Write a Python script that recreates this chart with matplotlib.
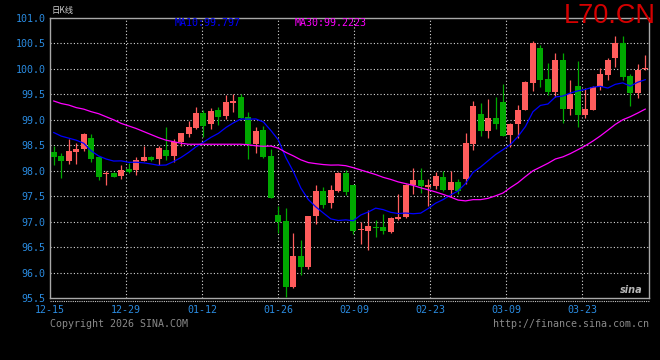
import numpy as np
import matplotlib
matplotlib.use("Agg")
import matplotlib.pyplot as plt
from matplotlib.lines import Line2D

# ---- data ----
opens = [98.36, 98.29, 98.20, 98.37, 98.43, 98.64, 98.27, 97.93, 97.96, 97.90,
         98.03, 98.01, 98.19, 98.27, 98.23, 98.41, 98.29, 98.56, 98.72, 98.84,
         99.13, 98.92, 99.19, 99.08, 99.33, 99.45, 99.06, 98.53, 98.80, 98.29,
         97.13, 97.01, 95.72, 96.32, 96.11, 97.11, 97.60, 97.37, 97.60, 97.96,
         97.72, 96.83, 96.82, 96.89, 96.89, 96.80, 97.05, 97.09, 97.72, 97.82,
         97.68, 97.70, 97.88, 97.62, 97.78, 97.84, 98.53, 99.11, 98.78, 99.04,
         99.35, 98.70, 98.92, 99.19, 99.72, 100.41, 99.80, 99.55, 100.17, 99.21,
         99.66, 99.10, 99.19, 99.64, 99.88, 100.21, 100.51, 99.86, 99.53, 99.99]
highs = [98.49, 98.35, 98.62, 98.55, 98.74, 98.72, 98.27, 98.00, 97.97, 98.11,
         98.15, 98.27, 98.49, 98.29, 98.49, 98.86, 98.62, 98.74, 98.98, 99.25,
         99.20, 99.23, 99.25, 99.49, 99.51, 99.51, 99.15, 98.86, 98.88, 98.43,
         97.31, 97.27, 96.78, 96.64, 97.11, 97.72, 97.68, 97.72, 97.98, 98.01,
         97.72, 97.00, 97.23, 97.03, 97.15, 97.09, 97.54, 97.74, 98.05, 98.05,
         97.84, 97.98, 98.00, 98.00, 97.84, 98.74, 99.37, 99.33, 99.41, 99.45,
         99.70, 98.94, 99.29, 99.76, 100.55, 100.47, 100.12, 100.31, 100.31, 99.78,
         100.16, 99.62, 99.66, 100.02, 100.21, 100.65, 100.65, 99.90, 100.10, 100.27]
lows = [98.11, 97.85, 98.14, 98.14, 98.39, 98.18, 97.82, 97.72, 97.87, 97.84,
        97.95, 97.92, 98.19, 98.20, 98.11, 98.21, 98.17, 98.49, 98.66, 98.82,
        98.66, 98.82, 98.90, 99.02, 99.15, 99.04, 98.23, 98.35, 98.25, 97.46,
        96.78, 95.52, 95.70, 95.95, 96.07, 96.95, 97.27, 97.27, 97.58, 97.52,
        96.76, 96.56, 96.44, 96.70, 96.76, 96.78, 97.03, 97.07, 97.54, 97.56,
        97.31, 97.64, 97.60, 97.48, 97.54, 97.74, 98.41, 98.68, 98.64, 98.82,
        98.68, 98.47, 98.64, 99.19, 99.57, 99.64, 99.49, 99.45, 98.94, 99.10,
        98.86, 99.04, 99.19, 99.59, 99.78, 100.04, 99.78, 99.27, 99.43, 99.98]
closes = [98.26, 98.20, 98.39, 98.43, 98.72, 98.23, 97.88, 97.94, 97.88, 98.01,
          97.97, 98.22, 98.27, 98.21, 98.45, 98.29, 98.56, 98.74, 98.86, 99.13,
          98.88, 99.17, 99.06, 99.35, 99.37, 99.04, 98.53, 98.78, 98.27, 97.46,
          97.00, 95.72, 96.32, 96.11, 97.11, 97.60, 97.33, 97.62, 97.96, 97.58,
          96.82, 96.85, 96.91, 96.87, 96.82, 97.07, 97.09, 97.72, 97.82, 97.70,
          97.72, 97.90, 97.62, 97.78, 97.60, 98.54, 99.27, 98.78, 99.04, 98.92,
          98.68, 98.92, 99.19, 99.74, 100.51, 99.78, 99.55, 100.17, 99.21, 99.51,
          99.10, 99.21, 99.64, 99.90, 100.17, 100.51, 99.84, 99.53, 99.98, 100.00]
# moving averages before enough closes are on the chart
ma10_lead = [98.75, 98.68, 98.64, 98.60, 98.54, 98.39, 98.29, 98.23, 98.19]
ma30_lead = [99.37, 99.32, 99.29, 99.24, 99.21, 99.16, 99.12, 99.06, 99.00, 98.93,
             98.88, 98.83, 98.77, 98.71, 98.65, 98.60, 98.57, 98.54, 98.52, 98.52,
             98.52, 98.52, 98.52, 98.52, 98.52, 98.52, 98.51, 98.49, 98.48]
tick_labels = ["12-15", "12-29", "01-12", "01-26", "02-09", "02-23", "03-09", "03-23"]
y_ticks = [95.5, 96.0, 96.5, 97.0, 97.5, 98.0, 98.5, 99.0, 99.5, 100.0, 100.5, 101.0]
title_text = "日K线"
ma10_text = "MA10:99.797"
ma30_text = "MA30:99.2223"
symbol_text = "L70.CN"
copyright_text = "Copyright 2026 SINA.COM"
url_text = "http://finance.sina.com.cn"

# ---- derived ----
o = np.array(opens); h = np.array(highs); l = np.array(lows); c = np.array(closes)
n = len(c)
x = np.arange(n)
ma10 = np.array(ma10_lead + [c[i - 9:i + 1].mean() for i in range(9, n)])
ma30 = np.array(ma30_lead + [c[i - 29:i + 1].mean() for i in range(29, n)])

W, H = 660, 360
fig = plt.figure(figsize=(W / 100, H / 100), dpi=100, facecolor="black")
L, R, T, B = 50, 649, 18, 298
ax = fig.add_axes([L / W, 1 - B / H, (R - L) / W, (B - T) / H], facecolor="black")

RED = "#FF5C5C"
GREEN = "#00A800"
up = c >= o
cols = np.where(up, RED, GREEN)

ax.vlines(x, l, h, colors=cols, linewidth=0.9, zorder=3)
body_bot = np.minimum(o, c)
body_h = np.maximum(np.abs(c - o), 0.02)
ax.bar(x, body_h, bottom=body_bot, width=0.8, color=cols, edgecolor=cols,
       linewidth=0, zorder=4)

ax.plot(x, ma10, color="#0000FF", linewidth=0.9, zorder=5)
ax.plot(x, ma30, color="#FF00FF", linewidth=0.9, zorder=5)

ax.set_xlim(-0.5, n - 0.5)
ax.set_ylim(95.5, 101.0)

slot_px = (R - L) / n
xt = -0.5 + np.arange(len(tick_labels)) * 76 / slot_px
ax.set_xticks(xt)
ax.set_xticklabels(tick_labels)
ax.set_yticks(y_ticks)
ax.set_yticklabels([f"{v:.1f}" for v in y_ticks])

LBL = "#2A8BE0"
ax.tick_params(axis="both", length=0, colors=LBL, labelsize=7.2)
ax.tick_params(axis="x", pad=5)
ax.tick_params(axis="y", pad=3)
for t in ax.get_xticklabels() + ax.get_yticklabels():
    t.set_family("DejaVu Sans Mono")
    t.set_color(LBL)

for yv in y_ticks[1:-1]:
    ax.axhline(yv, color="#D8D8D8", linewidth=0.8, linestyle=(0, (1, 2)), zorder=1)
for xv in xt[1:]:
    ax.axvline(xv, color="#D8D8D8", linewidth=0.8, linestyle=(0, (1, 2)), zorder=1)

for s in ax.spines.values():
    s.set_color("#A8A8A8")
    s.set_linewidth(1.0)

# dotted rule just under the plot frame
fig.add_artist(Line2D([L / W, (R + 1) / W], [1 - 301 / H, 1 - 301 / H],
                      color="#C8C8C8", linewidth=0.8, linestyle=(0, (1, 1))))

def ft(px, py, s, **kw):
    fig.text(px / W, 1 - py / H, s, **kw)

ft(52, 11, title_text, family=["Noto Sans CJK SC", "DejaVu Sans"], fontsize=6,
   color="#D0D0D0", va="center", ha="left")
ft(175, 23, ma10_text, family="DejaVu Sans Mono", fontsize=7.2, color="#0000FF",
   va="center", ha="left")
ft(295, 23, ma30_text, family="DejaVu Sans Mono", fontsize=7.2, color="#FF00FF",
   va="center", ha="left")
ft(610, 16, symbol_text, family="Liberation Sans", fontsize=19.5, color="#D40000",
   va="center", ha="center")
ft(50, 324, copyright_text, family="DejaVu Sans Mono", fontsize=7.2, color="#8A8A8A",
   va="center", ha="left")
ft(649, 324, url_text, family="DejaVu Sans Mono", fontsize=7.2, color="#8A8A8A",
   va="center", ha="right")
ft(631, 290, "sina", family="DejaVu Sans", fontsize=7, color="#B8B8B8",
   fontweight="bold", style="italic", va="center", ha="center")

fig.savefig("out.png", dpi=100, facecolor="black")
